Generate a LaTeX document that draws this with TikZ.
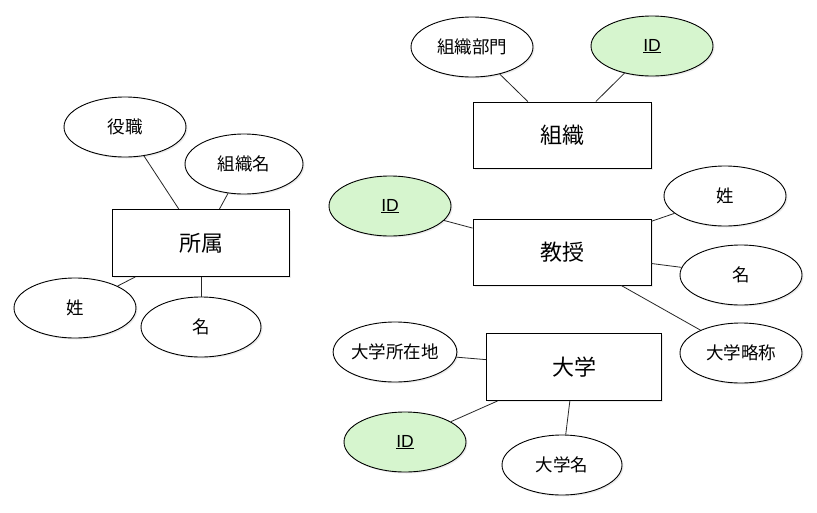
\documentclass[tikz,border=0pt]{standalone}
\usepackage{fontspec}
\setmainfont{Noto Sans CJK JP}
\newfontfamily\latinfont{Liberation Sans}
\usetikzlibrary{shapes.geometric,shadows}
\definecolor{keygreen}{RGB}{214,245,206}
\tikzset{
  attr/.style={ellipse, draw=black, line width=0.9pt, fill=white, inner sep=0pt,
    minimum width=122pt, minimum height=60pt, font=\fontsize{17.5}{19}\selectfont,
    drop shadow={shadow xshift=1.5pt, shadow yshift=-1.5pt, opacity=0.15}},
  keyattr/.style={attr, fill=keygreen},
  entity/.style={rectangle, draw=black, line width=0.9pt, fill=white, inner sep=0pt,
    minimum width=178pt, minimum height=66pt, font=\fontsize{22}{24}\selectfont,
    drop shadow={shadow xshift=1.5pt, shadow yshift=-1.5pt, opacity=0.15}},
  link/.style={draw=black!85, line width=0.8pt}
}
\begin{document}
\begin{tikzpicture}[x=1pt,y=-1pt]
\useasboundingbox[fill=white] (0,0) rectangle (817,512);
% entities
\node[entity] (soshiki) at (562,135) {組織};
\node[entity, minimum width=177pt, minimum height=67pt] (shozoku) at (201,243) {所属};
\node[entity] (kyoju) at (562,252) {教授};
\node[entity, minimum width=175pt, minimum height=67pt] (daigaku) at (574,367) {大学};
% attributes
\node[attr] (bumon) at (472,47) {組織部門};
\node[keyattr] (sid) at (652,46) {\latinfont\underline{ID}};
\node[attr] (yakushoku) at (125,127) {役職};
\node[attr, minimum width=118pt] (soshikimei) at (244,164) {組織名};
\node[attr] (sei1) at (75,308) {姓};
\node[attr, minimum width=120pt] (mei1) at (201,327) {名};
\node[keyattr] (kid) at (390,206) {\latinfont\underline{ID}};
\node[attr] (sei2) at (725,196) {姓};
\node[attr] (mei2) at (741,275) {名};
\node[attr] (ryaku) at (741,353) {大学略称};
\node[attr] (shozaichi) at (395,352) {大学所在地};
\node[keyattr] (did) at (405,442) {\latinfont\underline{ID}};
\node[attr, minimum width=120pt] (daigakumei) at (562,465) {大学名};
% connectors
\draw[link] (bumon) -- (soshiki);
\draw[link] (sid) -- (soshiki);
\draw[link] (yakushoku) -- (shozoku);
\draw[link] (soshikimei) -- (shozoku);
\draw[link] (sei1) -- (shozoku);
\draw[link] (mei1) -- (shozoku);
\draw[link] (kid) -- (kyoju);
\draw[link] (sei2) -- (kyoju);
\draw[link] (mei2) -- (kyoju);
\draw[link] (ryaku) -- (kyoju);
\draw[link] (shozaichi) -- (daigaku);
\draw[link] (did) -- (daigaku);
\draw[link] (daigakumei) -- (daigaku);
\end{tikzpicture}
\end{document}
